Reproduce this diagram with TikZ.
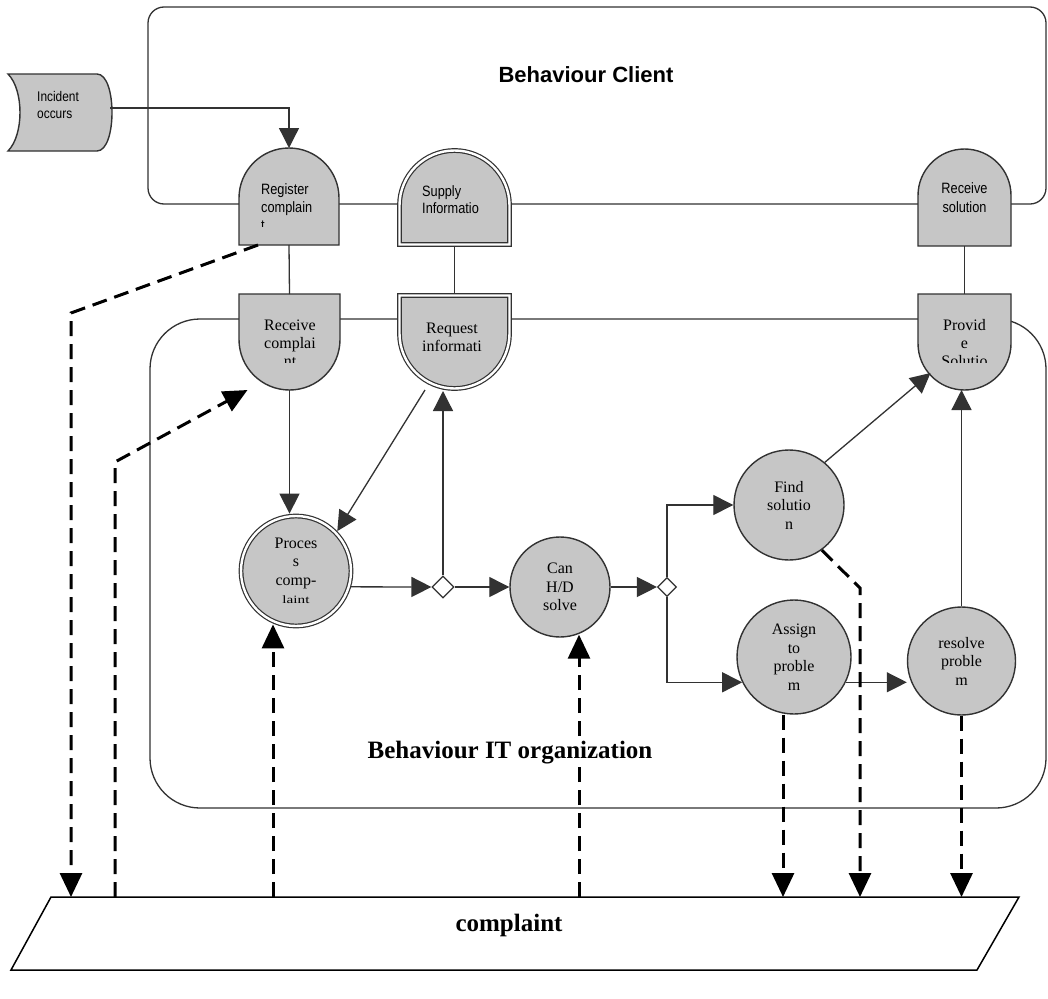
\documentclass[tikz,border=0pt]{standalone}
\usepackage{fontspec}
\usepackage{graphicx}
\setmainfont{Liberation Serif}
\newfontfamily\condsans[FakeStretch=0.85]{Liberation Sans}
\newfontfamily\headsans{Liberation Sans}
\usetikzlibrary{arrows.meta,calc,shapes.geometric}
\definecolor{shapefill}{RGB}{198,198,198}
\definecolor{outline}{RGB}{50,50,50}

\begin{document}
\begin{tikzpicture}[x=1pt,y=-1pt,
  box/.style={inner sep=0pt,outer sep=0pt},
  lane/.style={draw=outline,line width=1.3pt,rounded corners=#1,inner sep=0pt},
  shp/.style={fill=shapefill,draw=outline,line width=1.4pt},
  dbl/.style={fill=shapefill,draw=outline,line width=1.2pt,double=white,double distance=2.4pt},
  flow/.style={draw=outline,line width=1.3pt},
  flowar/.style={flow,-{Triangle[width=20pt,length=20pt]}},
  data/.style={draw=black,line width=3pt,dash pattern=on 15pt off 8pt},
  dataar/.style={data,-{Triangle[width=22pt,length=24pt]}},
  sertxt/.style={font=\fontsize{16}{18}\selectfont,align=center,inner sep=0pt},
  santxt/.style={font=\condsans\fontsize{15}{18}\selectfont,inner sep=0pt},
  circ/.style={circle,fill=shapefill,draw=outline,line width=1.4pt,inner sep=0pt,
    minimum size=#1,align=center,font=\fontsize{16}{18.5}\selectfont},
  gate/.style={diamond,draw=outline,fill=white,line width=1.2pt,inner sep=0pt,minimum size=#1},
]
% canvas
\fill[white] (0,0) rectangle (1048,998);
\useasboundingbox (0,0) rectangle (1048,998);

% swim lanes
\node[lane=16,minimum width=898,minimum height=197] (clientlane) at (597,105.5) {};
\node[lane=50,minimum width=896,minimum height=489] (itlane) at (598,563.5) {};
\node[font=\headsans\bfseries\fontsize{22}{26}\selectfont] (clienttitle) at (586,75) {Behaviour Client};

% data store
\node[box,minimum width=1008,minimum height=73] (store) at (515,933.5) {};
\draw[line width=1.5pt,black] ($(store.north west)+(40,0)$) -- (store.north east)
  -- ($(store.south east)+(-42,0)$) -- (store.south west) -- cycle;
\node[font=\bfseries\fontsize{25}{30}\selectfont] (storetext) at (509,925) {complaint};

% trigger
\draw[shp] (8,74) -- (97,74) .. controls (117,74) and (117,151) .. (97,151)
  -- (8,151) .. controls (24,135) and (24,90) .. (8,74) -- cycle;
\node[box,minimum width=104,minimum height=77] (inc) at (58,108) {};

% client side activities
\node[box,minimum width=100,minimum height=97] (reg) at (289,196.5) {};
\draw[shp] (239,245) -- (239,198) arc[start angle=180,end angle=360,radius=50] -- (339,245) -- cycle;
\node[box,minimum width=115,minimum height=99] (sup) at (454.5,197.5) {};
\draw[dbl] (399.5,244.5) -- (399.5,205.5) arc[start angle=180,end angle=360,radius=55] -- (509.5,244.5) -- cycle;
\node[box,minimum width=93,minimum height=97] (rsol) at (964.5,197.5) {};
\draw[shp] (918,246) -- (918,195.5) arc[start angle=180,end angle=360,radius=46.5] -- (1011,246) -- cycle;

% IT side interface activities
\node[box,minimum width=101,minimum height=96] (rcom) at (289.5,342) {};
\draw[shp] (239,294) -- (340,294) -- (340,339.5) arc[start angle=0,end angle=180,radius=50.5] -- cycle;
\node[box,minimum width=115,minimum height=98] (req) at (454.5,342) {};
\draw[dbl] (399.5,295.5) -- (509.5,295.5) -- (509.5,333.5) arc[start angle=0,end angle=180,radius=55] -- cycle;
\node[box,minimum width=93,minimum height=96] (prov) at (964.5,342) {};
\draw[shp] (918,294) -- (1011,294) -- (1011,343.5) arc[start angle=0,end angle=180,radius=46.5] -- cycle;

% internal processes
\node[circ=110,line width=1.2pt,double=white,double distance=2.4pt,outer sep=2.4pt] (proc) at (296,571)
  {Proces\\s\\comp-\\\scalebox{0.95}[0.7]{laint}};
\node[circ=100] (canhd) at (560,587) {Can\\H/D\\solve};
\node[circ=110] (find) at (789,505) {Find\\solutio\\n};
\node[circ=114] (assign) at (794,657) {Assign\\to\\proble\\m};
\node[circ=108] (resolve) at (961.5,661) {resolve\\proble\\m};
\node[gate=22] (d1) at (443,587) {};
\node[gate=19] (d2) at (667,587) {};

% control flow
\draw[flowar] (inc.east) -| (reg.north);
\draw[flow] (reg.south) -- (rcom.north);
\draw[flow] (sup.south) -- (req.north);
\draw[flow] (rsol.south) -- (prov.north);
\draw[flowar] (rcom.south) -- (rcom.south |- proc.north);
\draw[flowar] ($(req.south)+(-29.5,-1)$) -- (proc.44);
\draw[flowar] (d1.north) -- (d1.north |- req.south);
\draw[flowar] (proc.-16) -- (d1.west);
\draw[flowar] (d1.east) -- (canhd.west);
\draw[flowar] (canhd.east) -- (d2.west);
\draw[flowar] (d2.north) |- (find.west);
\draw[flowar] (d2.south) |- (assign.206);
\draw[flowar] (assign.-26) -- (assign.-26 -| resolve.west);
\draw[flowar] (resolve.north) -- (resolve.north |- prov.south);
\draw[flowar] (find.50) -- ($(prov.south)+(-34,-17)$);

% data flow to and from the complaint store
\coordinate (bendA) at (71,313);
\draw[dataar] ($(reg.south)+(-31,0)$) -- (bendA) -- (bendA |- store.north);
\coordinate (bendB) at (115,462);
\draw[dataar] (bendB |- store.north) -- (bendB) -- ($(rcom.south)+(-42,0)$);
\coordinate (procin) at ($(proc.south)+(-23,-4)$);
\draw[dataar] (procin |- store.north) -- (procin);
\coordinate (canin) at ($(canhd.south)+(19,-3)$);
\draw[dataar] (canin |- store.north) -- (canin);
\coordinate (assignout) at ($(assign.south)+(-11,0)$);
\draw[dataar] (assignout) -- (assignout |- store.north);
\coordinate (findbend) at (860,588);
\draw[dataar] (find.-54) -- (findbend) -- (findbend |- store.north);
\draw[dataar] (resolve.south) -- (resolve.south |- store.north);

% lane title over the flows
\node[fill=white,inner sep=1pt,font=\bfseries\fontsize{25}{30}\selectfont] (ittitle) at (510,753) {Behaviour IT organization};

% labels of the bordered activities
\node[santxt,anchor=west,align=left,font=\condsans\fontsize{14}{17}\selectfont] (inctext) at (37,104.5) {Incident\\occurs};
\begin{scope}
  \clip (239,140) rectangle (339,226);
  \node[santxt,anchor=west,align=left] (regtext) at (261,207) {Register\\complain\\t};
\end{scope}
\node[santxt,anchor=west,align=left,font=\condsans\fontsize{15}{17}\selectfont] (suptext) at (422,199.5) {Supply\\Informatio};
\node[santxt,align=center,font=\condsans\fontsize{15}{19}\selectfont] (rsoltext) at (964.5,197.5) {Receive\\solution};
\begin{scope}
  \clip (239,290) rectangle (340,362);
  \node[sertxt] (rcomtext) at (290,343) {Receive\\complai\\nt};
\end{scope}
\node[sertxt] (reqtext) at (452,337) {Request\\informati};
\begin{scope}
  \clip (918,290) rectangle (1011,362);
  \node[sertxt] (provtext) at (964.5,343) {Provid\\e\\Solutio};
\end{scope}
\end{tikzpicture}
\end{document}
